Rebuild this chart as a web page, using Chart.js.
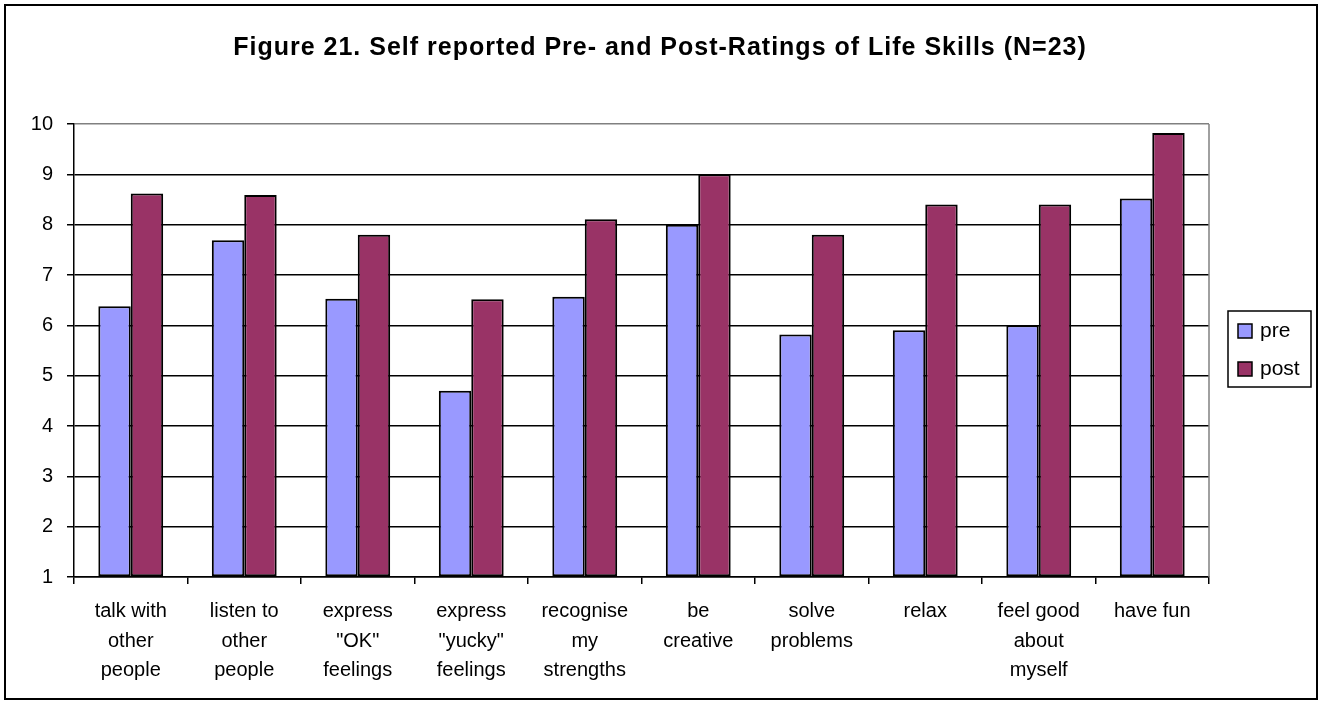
<!DOCTYPE html>
<html lang="en">
    <head>
        <meta charset="UTF-8">
        <title>Figure 21</title>
        <script src="https://cdn.jsdelivr.net/npm/chart.js"></script>
        <style>
            body { margin: 0; background: white; }
            canvas { display: block; }
        </style>
    </head>
    <body>
        <canvas id="lifeChart" width="1323" height="704"></canvas>
        <script>
            const titleText = 'Figure 21. Self reported Pre- and Post-Ratings of Life Skills (N=23)';
            const skills = [
                ['talk with', 'other', 'people'],
                ['listen to', 'other', 'people'],
                ['express', '"OK"', 'feelings'],
                ['express', '"yucky"', 'feelings'],
                ['recognise', 'my', 'strengths'],
                ['be', 'creative'],
                ['solve', 'problems'],
                ['relax'],
                ['feel good', 'about', 'myself'],
                ['have fun']
            ];
            const preRatings = [6.38, 7.69, 6.53, 4.7, 6.57, 8.0, 5.82, 5.9, 6.0, 8.52];
            const postRatings = [8.62, 8.59, 7.8, 6.52, 8.11, 9.0, 7.8, 8.4, 8.4, 9.82];
            const yMin = 1, yMax = 10;

            const font = 'Liberation Sans, Arial, sans-serif';

            // frame, title, right plot border and legend box like the Excel original
            const decor = {
                id: 'decor',
                afterDraw(chart) {
                    const ctx = chart.ctx;
                    const a = chart.chartArea;
                    ctx.save();
                    ctx.strokeStyle = '#808080';
                    ctx.lineWidth = 1.5;
                    ctx.beginPath();
                    ctx.moveTo(a.right, a.top);
                    ctx.lineTo(a.right, a.bottom);
                    ctx.stroke();

                    ctx.strokeStyle = '#000';
                    ctx.lineWidth = 2;
                    ctx.strokeRect(5, 5, 1312, 694);

                    ctx.fillStyle = '#000';
                    ctx.font = 'bold 25px ' + font;
                    ctx.letterSpacing = '1px';
                    ctx.textAlign = 'center';
                    ctx.textBaseline = 'alphabetic';
                    ctx.fillText(titleText, 660, 55);
                    ctx.letterSpacing = '0px';

                    // legend
                    ctx.lineWidth = 1.5;
                    ctx.strokeRect(1228, 311, 83, 76);
                    ctx.font = '21px ' + font;
                    ctx.textAlign = 'left';
                    ctx.textBaseline = 'middle';
                    chart.data.datasets.forEach(function(ds, i) {
                        const y = 331 + i * 38;
                        ctx.fillStyle = ds.backgroundColor;
                        ctx.fillRect(1238, y - 7, 14, 14);
                        ctx.strokeRect(1238, y - 7, 14, 14);
                        ctx.fillStyle = '#000';
                        ctx.fillText(ds.label, 1260, y);
                    });
                    ctx.restore();
                }
            };

            const ctx = document.getElementById('lifeChart').getContext('2d');
            new Chart(ctx, {
                type: 'bar',
                data: {
                    labels: skills,
                    datasets: [{
                        label: 'pre',
                        data: preRatings,
                        backgroundColor: '#9999FF',
                        borderColor: '#000',
                        borderWidth: 2,
                        borderSkipped: false,
                        base: yMin
                    }, {
                        label: 'post',
                        data: postRatings,
                        backgroundColor: '#993366',
                        borderColor: '#000',
                        borderWidth: 2,
                        borderSkipped: false,
                        base: yMin
                    }]
                },
                options: {
                    responsive: false,
                    animation: false,
                    layout: { padding: { left: 0, right: 114, top: 124, bottom: 0 } },
                    datasets: { bar: { categoryPercentage: 2 / 3.5, barPercentage: 1 } },
                    plugins: {
                        legend: { display: false },
                        title: { display: false },
                        tooltip: { enabled: false }
                    },
                    scales: {
                        x: {
                            offset: true,
                            afterFit: function(s) { s.height = 127; },
                            grid: { offset: true, drawOnChartArea: false, drawTicks: true, tickLength: 7, color: '#000', lineWidth: 1.5 },
                            border: { color: '#000', width: 1.5 },
                            ticks: {
                                color: '#000',
                                padding: 13,
                                maxRotation: 0,
                                autoSkip: false,
                                font: { family: font, size: 20, lineHeight: 1.475 }
                            }
                        },
                        y: {
                            min: yMin,
                            max: yMax,
                            afterFit: function(s) { s.width = 74; },
                            grid: {
                                color: function(c) { return c.tick && c.tick.value === yMax ? '#808080' : '#000'; },
                                tickColor: '#000',
                                lineWidth: 1.5,
                                tickLength: 7
                            },
                            border: { color: '#000', width: 1.5 },
                            ticks: {
                                stepSize: 1,
                                color: '#000',
                                padding: 14,
                                font: { family: font, size: 20 }
                            }
                        }
                    }
                },
                plugins: [decor]
            });
        </script>
    </body>
</html>
